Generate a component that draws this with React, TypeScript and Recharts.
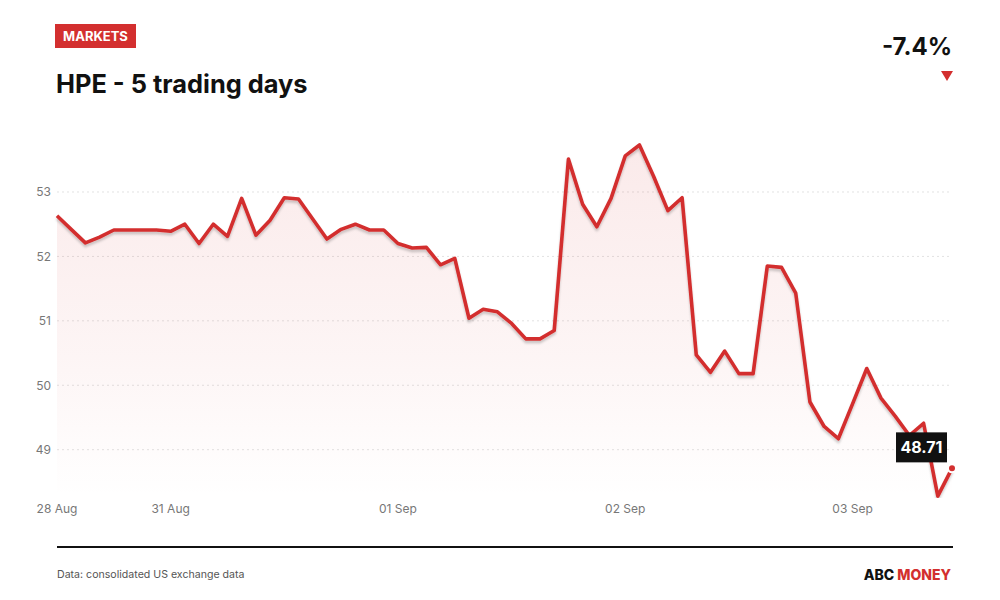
import { ComposedChart, Area, Line, XAxis, YAxis, CartesianGrid } from 'recharts';

// Intraday prices, ~16 samples per trading day (28 Aug and 03 Sep are partial)
const DAYS = ['28 Aug', '31 Aug', '01 Sep', '02 Sep', '03 Sep'];
const AUG28 = [52.63, 52.42, 52.21, 52.3, 52.41, 52.41, 52.41, 52.41];
const AUG31 = [
  52.39, 52.5, 52.2, 52.5, 52.31, 52.9, 52.33, 52.56,
  52.91, 52.89, 52.58, 52.27, 52.42, 52.5, 52.41, 52.41,
];
const SEP01 = [
  52.2, 52.13, 52.14, 51.87, 51.97, 51.04, 51.18, 51.14,
  50.96, 50.72, 50.72, 50.85, 53.51, 52.81, 52.46, 52.9,
];
const SEP02 = [
  53.56, 53.73, 53.24, 52.71, 52.91, 50.47, 50.2, 50.53,
  50.18, 50.18, 51.85, 51.83, 51.43, 49.74, 49.36, 49.17,
];
const SEP03 = [49.71, 50.26, 49.8, 49.52, 49.22, 49.41, 48.28, 48.71];
const PRICES_BY_DAY = [AUG28, AUG31, SEP01, SEP02, SEP03];

const Y_TICKS = [49, 50, 51, 52, 53];
const CHANGE_TEXT = '-7.4%';

const RED = '#d32f2f';
const FONT = 'Inter, "Noto Sans", sans-serif';

const data = PRICES_BY_DAY.flatMap((prices, d) =>
  prices.map((price, s) => ({ key: `${DAYS[d]}|${s}`, price }))
);
const xTicks = DAYS.map((d) => `${d}|0`);
const lastIndex = data.length - 1;

function renderDot(props: any) {
  const { cx, cy, index, value } = props;
  if (index !== lastIndex) return <g key={`dot-${index}`} />;
  return (
    <g key={`dot-${index}`}>
      <circle cx={cx} cy={cy} r={4} fill={RED} stroke="#fff" strokeWidth={2} />
      <rect x={cx - 56} y={cy - 36} width={51} height={30} fill="#111" />
      <text
        x={cx - 30.5}
        y={cy - 21}
        textAnchor="middle"
        dominantBaseline="central"
        fill="#fff"
        fontSize={16}
        fontWeight={700}
        fontFamily={FONT}
      >
        {Number(value).toFixed(2)}
      </text>
    </g>
  );
}

export default function App() {
  return (
    <div
      style={{
        position: 'absolute',
        left: 0,
        top: 0,
        width: 1000,
        height: 600,
        background: '#fff',
        fontFamily: FONT,
        overflow: 'hidden',
      }}
    >
      {/* ヘッダー */}
      <div
        style={{
          position: 'absolute',
          left: 55,
          top: 24,
          width: 81,
          height: 24,
          background: RED,
          color: '#fff',
          fontSize: 13,
          fontWeight: 700,
          lineHeight: '24px',
          textAlign: 'center',
        }}
      >
        MARKETS
      </div>
      <div
        style={{
          position: 'absolute',
          left: 56,
          top: 68,
          fontSize: 25.4,
          fontWeight: 700,
          color: '#111',
          lineHeight: '32px',
        }}
      >
        HPE - 5 trading days
      </div>
      <div
        style={{
          position: 'absolute',
          right: 48,
          top: 32,
          fontSize: 24,
          fontWeight: 700,
          color: '#111',
          lineHeight: '30px',
        }}
      >
        {CHANGE_TEXT}
      </div>
      <svg style={{ position: 'absolute', left: 941, top: 71 }} width={12} height={11}>
        <polygon points="0,0 12,0 6,10" fill={RED} />
      </svg>

      {/* チャート */}
      <div style={{ position: 'absolute', left: 0, top: 0 }}>
        <ComposedChart
          width={1000}
          height={600}
          data={data}
          margin={{ top: 134, right: 48, bottom: 72, left: 0 }}
        >
          <defs>
            <linearGradient id="areaFill" x1="0" y1="0" x2="0" y2="1">
              <stop offset="0%" stopColor={RED} stopOpacity={0.17} />
              <stop offset="60%" stopColor={RED} stopOpacity={0.08} />
              <stop offset="100%" stopColor={RED} stopOpacity={0} />
            </linearGradient>
            <filter id="lineShadow" x="-5%" y="-10%" width="110%" height="130%">
              <feDropShadow dx="0" dy="2.5" stdDeviation="1" floodColor="#000" floodOpacity="0.2" />
            </filter>
          </defs>
          <CartesianGrid
            vertical={false}
            horizontalValues={Y_TICKS}
            stroke="#e2e2e2"
            strokeDasharray="2 3"
          />
          <XAxis
            dataKey="key"
            type="category"
            scale="point"
            padding={{ left: 0, right: 0 }}
            ticks={xTicks}
            interval={0}
            tickFormatter={(v: string) => v.split('|')[0]}
            axisLine={false}
            tickLine={false}
            tickSize={0}
            tickMargin={6}
            height={30}
            tick={{ fill: '#777', fontSize: 12, fontFamily: FONT }}
          />
          <YAxis
            type="number"
            domain={[48.25, 53.9]}
            allowDataOverflow
            ticks={Y_TICKS}
            width={57}
            axisLine={false}
            tickLine={false}
            tickSize={0}
            tickMargin={6}
            tick={{ fill: '#777', fontSize: 12, fontFamily: FONT }}
          />
          <Area
            type="linear"
            dataKey="price"
            stroke="none"
            fill="url(#areaFill)"
            isAnimationActive={false}
          />
          <Line
            type="linear"
            dataKey="price"
            stroke={RED}
            strokeWidth={3.6}
            strokeLinejoin="round"
            filter="url(#lineShadow)"
            dot={renderDot}
            activeDot={false}
            isAnimationActive={false}
          />
        </ComposedChart>
      </div>

      {/* フッター */}
      <div
        style={{
          position: 'absolute',
          left: 57,
          top: 546,
          width: 896,
          height: 2,
          background: '#111',
        }}
      />
      <div
        style={{
          position: 'absolute',
          left: 57,
          top: 568,
          fontSize: 10.6,
          color: '#555',
          lineHeight: '14px',
        }}
      >
        Data: consolidated US exchange data
      </div>
      <div
        style={{
          position: 'absolute',
          right: 49,
          top: 566,
          fontSize: 14,
          fontWeight: 800,
          lineHeight: '18px',
          color: '#111',
        }}
      >
        ABC <span style={{ color: RED }}>MONEY</span>
      </div>
    </div>
  );
}
